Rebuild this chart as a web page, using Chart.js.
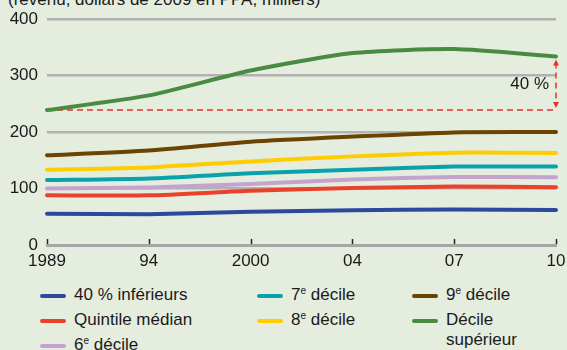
<!DOCTYPE html>
<html lang="fr">
<head>
<meta charset="utf-8">
<script src="https://cdn.jsdelivr.net/npm/chart.js@4"></script>
<style>
  html, body { margin: 0; padding: 0; }
  body {
    width: 567px; height: 350px; overflow: hidden; position: relative;
    background: #e5eddf;
    font-family: "Liberation Sans Narrow", "Liberation Sans", sans-serif;
    color: #1a1a1a;
  }
  #unit { position: absolute; left: 8px; top: -10px; font-size: 17px; white-space: nowrap; }
  #wrap { position: absolute; left: 0; top: 0; width: 567px; height: 280px; }
  .leg { position: absolute; font-size: 17px; line-height: 20px; white-space: nowrap; }
  .leg .sw { position: absolute; width: 26px; height: 4px; border-radius: 2px; left: 0; top: 9px; }
  .leg .tx { position: absolute; left: 34px; top: 0; }
  .leg sup { font-size: 10px; vertical-align: 6px; line-height: 0; }
</style>
</head>
<body>
<div id="unit">(revenu, dollars de 2009 en PPA, milliers)</div>
<div id="wrap"><canvas id="c"></canvas></div>
<div id="legend"></div>
<script>
// Années (axe horizontal, espacement régulier)
const years = ["1989", "94", "2000", "04", "07", "10"];

// Revenu moyen par groupe, milliers de dollars de 2009 en PPA
const bottom40   = [55.5, 54.5, 59, 61.5, 63, 62];
const medianQ    = [88, 88, 96, 101, 103.5, 102.5];
const decile6    = [100, 102, 108, 116, 120.5, 120];
const decile7    = [115, 118, 127, 133.5, 139, 139];
const decile8    = [133.5, 137.5, 148, 157, 163.5, 163];
const decile9    = [159, 167.5, 183, 192, 199.5, 200];
const topDecile  = [239, 265, 309, 340, 347, 334];

// Hausse du décile supérieur entre 1989 et 2010
const growthLabel = "40 %";

const yTicks = [0, 100, 200, 300, 400];

const series = [
  { label: "40 % inférieurs", html: "40 % inférieurs", data: bottom40, color: "#2b4a9c", col: 0, row: 0 },
  { label: "Quintile médian", html: "Quintile médian", data: medianQ, color: "#ea412c", col: 0, row: 1 },
  { label: "6e décile", html: "6<sup>e</sup> décile", data: decile6, color: "#c5a3cf", col: 0, row: 2 },
  { label: "7e décile", html: "7<sup>e</sup> décile", data: decile7, color: "#0aa2aa", col: 1, row: 0 },
  { label: "8e décile", html: "8<sup>e</sup> décile", data: decile8, color: "#ffcc00", col: 1, row: 1 },
  { label: "9e décile", html: "9<sup>e</sup> décile", data: decile9, color: "#6b4303", col: 2, row: 0 },
  { label: "Décile supérieur", html: "Décile<br>supérieur", data: topDecile, color: "#4b8a42", col: 2, row: 1 }
];

const FONT = "'Liberation Sans Narrow', 'Liberation Sans', sans-serif";

// Petites graduations vers le haut sur l'axe des années
const xTickMarks = {
  id: "xTickMarks",
  afterDatasetsDraw(chart) {
    const { ctx, scales: { x, y } } = chart;
    const y0 = y.getPixelForValue(0);
    ctx.save();
    ctx.strokeStyle = "#222";
    ctx.lineWidth = 1.5;
    x.ticks.forEach((t, i) => {
      const px = Math.round(x.getPixelForTick(i)) + 0.5;
      ctx.beginPath();
      ctx.moveTo(px, y0 - 1);
      ctx.lineTo(px, y0 - 6);
      ctx.stroke();
    });
    ctx.restore();
  }
};

// Repère en pointillés rouges : niveau de 1989 et écart jusqu'en 2010
const growthMarker = {
  id: "growthMarker",
  beforeDatasetsDraw(chart) {
    const { ctx, scales: { x, y } } = chart;
    const base = topDecile[0];
    const last = topDecile[topDecile.length - 1];
    const yb = y.getPixelForValue(base);
    const yl = y.getPixelForValue(last);
    const xl = x.getPixelForValue(0);
    const xr = x.getPixelForValue(years.length - 1);
    ctx.save();
    ctx.strokeStyle = "#e8322a";
    ctx.fillStyle = "#e8322a";
    ctx.lineWidth = 1.5;
    ctx.setLineDash([6, 4]);
    ctx.beginPath();
    ctx.moveTo(xl, yb);
    ctx.lineTo(xr, yb);
    ctx.stroke();
    ctx.beginPath();
    ctx.moveTo(xr, yl + 6);
    ctx.lineTo(xr, yb - 6);
    ctx.stroke();
    ctx.setLineDash([]);
    // pointes de flèche
    ctx.beginPath();
    ctx.moveTo(xr, yl + 3); ctx.lineTo(xr - 3, yl + 9); ctx.lineTo(xr + 3, yl + 9); ctx.closePath();
    ctx.fill();
    ctx.beginPath();
    ctx.moveTo(xr, yb - 2); ctx.lineTo(xr - 3, yb - 8); ctx.lineTo(xr + 3, yb - 8); ctx.closePath();
    ctx.fill();
    // étiquette
    ctx.fillStyle = "#1a1a1a";
    ctx.font = "17px " + FONT;
    ctx.textAlign = "right";
    ctx.textBaseline = "middle";
    ctx.fillText(growthLabel, xr - 7, (yb + yl) / 2 + 1);
    ctx.restore();
  }
};

new Chart(document.getElementById("c"), {
  type: "line",
  data: {
    labels: years,
    datasets: series.map(s => ({
      label: s.label,
      data: s.data,
      borderColor: s.color,
      backgroundColor: s.color,
      borderWidth: 4,
      pointRadius: 0,
      tension: 0.2,
      borderCapStyle: "round",
      borderJoinStyle: "round",
      fill: false
    }))
  },
  options: {
    responsive: true,
    maintainAspectRatio: false,
    animation: false,
    layout: { padding: { top: 10, right: 0, left: 0, bottom: 0 } },
    plugins: { legend: { display: false }, tooltip: { enabled: false } },
    scales: {
      x: {
        grid: { display: false, drawTicks: false },
        border: { display: true, color: "#a6a6a6", width: 3 },
        ticks: { color: "#1a1a1a", font: { size: 17, family: FONT }, padding: 6, maxRotation: 0, autoSkip: false },
        afterFit(scale) {
          scale.height = 35;
          scale.paddingLeft = 0;
          scale.paddingRight = 11;
        }
      },
      y: {
        min: 0, max: 400,
        afterBuildTicks(scale) { scale.ticks = yTicks.map(v => ({ value: v })); },
        grid: {
          drawTicks: false,
          color: ctx => ctx.tick && ctx.tick.value === 0 ? "rgba(0,0,0,0)" : "#b2b2b2",
          lineWidth: 2.5
        },
        border: { display: false },
        ticks: { color: "#1a1a1a", font: { size: 17, family: FONT }, padding: 9 },
        afterFit(scale) { scale.width = 47; }
      }
    }
  },
  plugins: [growthMarker, xTickMarks]
});

// Légende sur trois colonnes
const colX = [40, 257, 412];
const rowY = [285, 310, 335];
const legend = document.getElementById("legend");
series.forEach(s => {
  const d = document.createElement("div");
  d.className = "leg";
  d.style.left = colX[s.col] + "px";
  d.style.top = rowY[s.row] + "px";
  d.innerHTML = '<span class="sw" style="background:' + s.color + '"></span><span class="tx">' + s.html + "</span>";
  legend.appendChild(d);
});
</script>
</body>
</html>
